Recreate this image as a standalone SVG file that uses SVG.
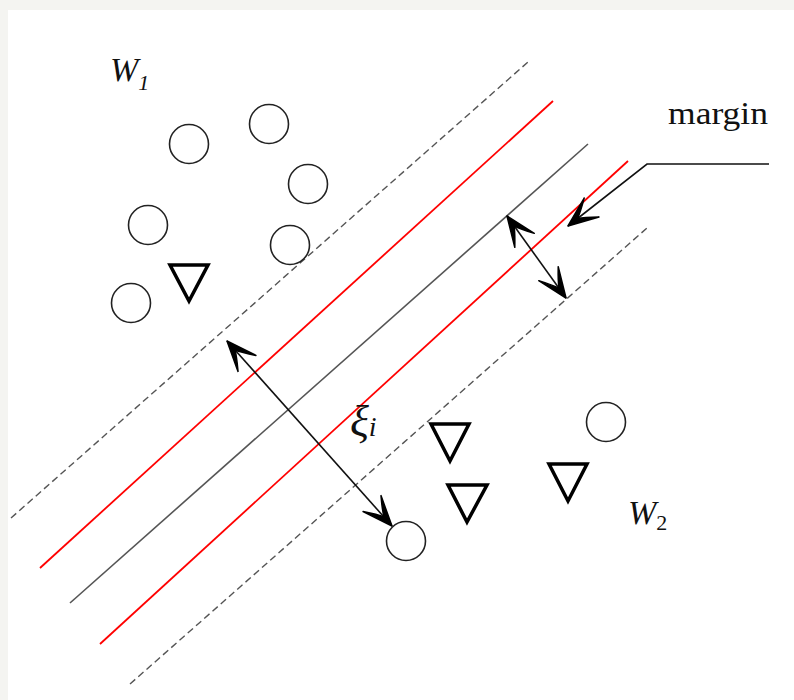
<svg xmlns="http://www.w3.org/2000/svg" width="794" height="700" viewBox="0 0 794 700">
<style>
.bg{fill:#ffffff}
.dash{stroke:#555;stroke-width:1.4;stroke-dasharray:7 4;fill:none}
.hyp{stroke:#555;stroke-width:1.6;fill:none}
.red{stroke:#ff0000;stroke-width:1.8;fill:none}
.pt{fill:none;stroke:#222;stroke-width:1.6}
.tri{fill:none;stroke:#000;stroke-width:3.5;stroke-linejoin:miter}
.arr{stroke:#111;stroke-width:1.6;fill:none}
.lbl{font-family:"Liberation Serif","Times New Roman",serif;fill:#111}
.it{font-style:italic}
</style>
<defs>
<marker id="ah" viewBox="-34 -15 36 30" refX="0" refY="0" markerWidth="36" markerHeight="30" markerUnits="userSpaceOnUse" orient="auto-start-reverse">
<path d="M0,0 L-30,-12 Q-18,-3 -12,0 Q-18,3 -30,12 Z" fill="#000" stroke="#000" stroke-width="1.5" stroke-linejoin="round"/>
</marker>
</defs>
<rect width="794" height="700" fill="#f4f4f1"/>
<rect x="8" y="10" width="786" height="690" class="bg"/>
<g id="lines">
<line class="dash" x1="11" y1="518" x2="528" y2="62"/>
<line class="red" x1="40" y1="568" x2="553" y2="101"/>
<line class="hyp" x1="70" y1="603" x2="588" y2="144"/>
<line class="red" x1="100" y1="644" x2="628" y2="161"/>
<line class="dash" x1="130" y1="684" x2="647" y2="228"/>
</g>
<g id="connectors">
<line class="arr" x1="507" y1="216" x2="566" y2="298" marker-start="url(#ah)" marker-end="url(#ah)"/>
<line class="arr" x1="227" y1="341" x2="392" y2="526" marker-start="url(#ah)" marker-end="url(#ah)"/>
<polyline class="arr" points="769,164 647,164 568,226" marker-end="url(#ah)"/>
</g>
<g id="w1-points">
<circle id="c1" class="pt" cx="189" cy="144" r="19.5"/>
<circle id="c2" class="pt" cx="269" cy="124" r="19.5"/>
<circle id="c3" class="pt" cx="308" cy="184" r="19.5"/>
<circle id="c4" class="pt" cx="148" cy="225" r="19.5"/>
<circle id="c5" class="pt" cx="290" cy="245" r="19.5"/>
<circle id="c6" class="pt" cx="131" cy="303" r="19.5"/>
<polygon id="t1" class="tri" points="170,265 208,265 189,301"/>
</g>
<g id="w2-points">
<circle id="c7" class="pt" cx="606" cy="422" r="19.5"/>
<circle id="c8" class="pt" cx="406" cy="541" r="19.5"/>
<polygon id="t2" class="tri" points="431,424 469,424 450,461"/>
<polygon id="t3" class="tri" points="448,485 487,485 467,522"/>
<polygon id="t4" class="tri" points="549,464 587,464 568,501"/>
</g>
<g id="labels">
<text class="lbl it" x="110" y="81" font-size="34">W<tspan font-size="22" dy="9">1</tspan></text>
<text class="lbl it" x="628" y="524" font-size="34">W<tspan font-size="22" font-style="normal" dy="6">2</tspan></text>
<text class="lbl it" x="350" y="436" font-size="44">ξ<tspan font-size="28" dy="0">i</tspan></text>
<text class="lbl" x="668" y="124" font-size="32" textLength="100" lengthAdjust="spacingAndGlyphs">margin</text>
</g>
</svg>
